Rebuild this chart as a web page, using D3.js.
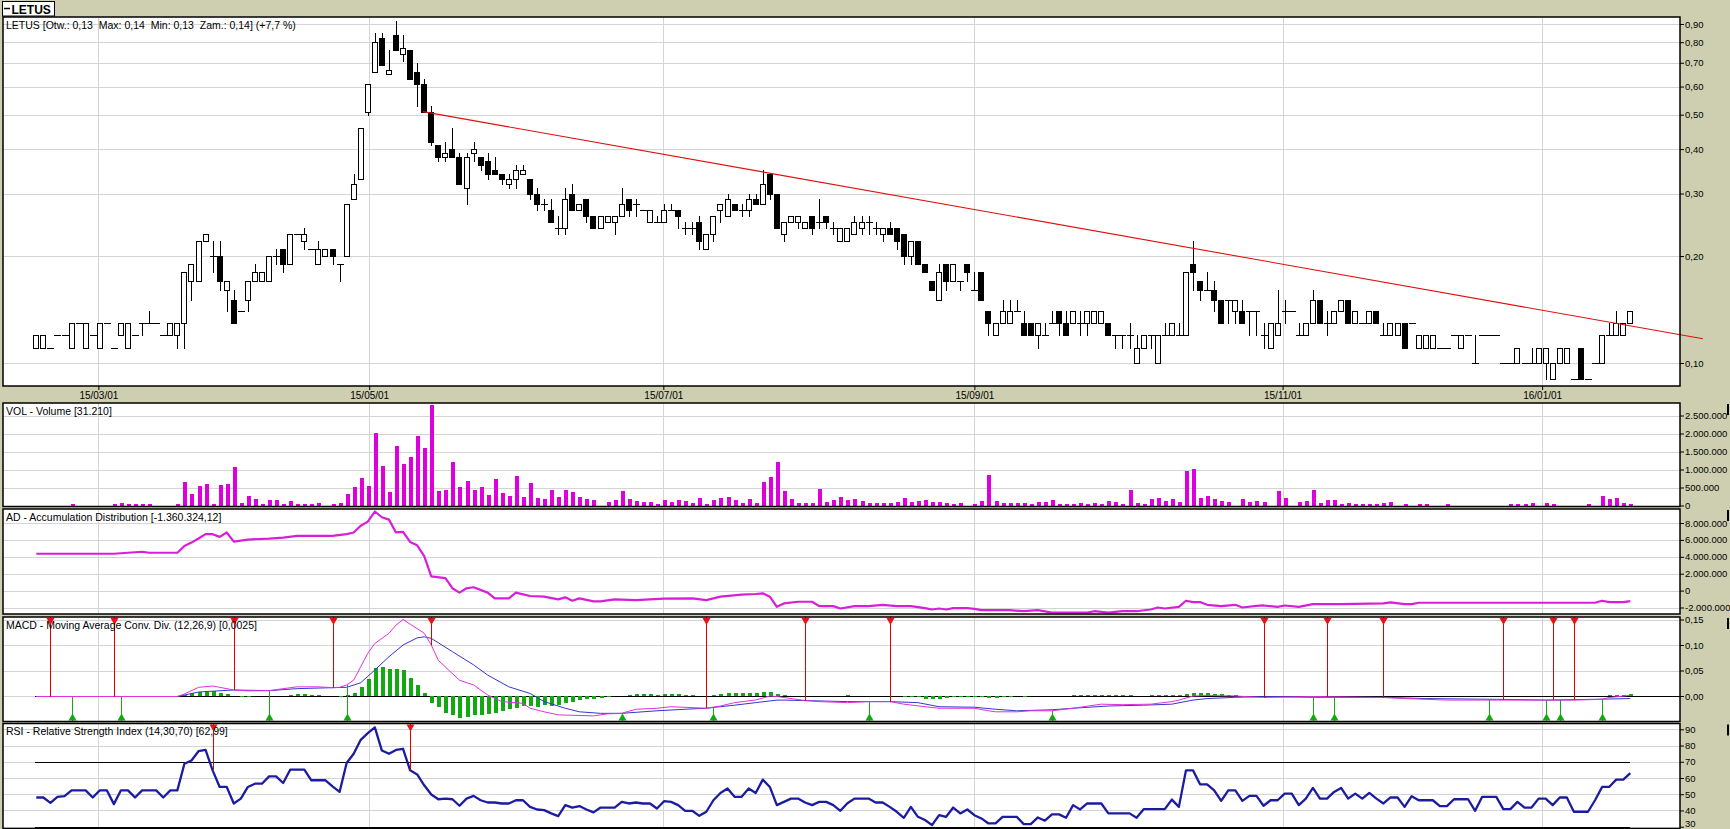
<!DOCTYPE html>
<html>
<head>
<meta charset="utf-8">
<script src="https://cdn.jsdelivr.net/npm/d3@7"></script>
<style>
  body { margin: 0; background: #cecfb0; }
  svg { display: block; font-family: "Liberation Sans", Arial, sans-serif; }
  text { white-space: pre; }
</style>
</head>
<body>
<svg id="chart" width="1730" height="829"></svg>
<script>
// LETUS daily candles, one entry per session
const opens = [
  .11,.11,.11,.12,.12,.11,.13,.11,.12,.11, .13,.11,.12,.11,.12,.13,.13,.13,.12,.12,
  .12,.13,.17,.17,.22,.20,.20,.16,.15,.14, .15,.17,.17,.17,.20,.21,.19,.23,.22,.21,
  .19,.20,.21,.19,.20,.29,.33,.51,.66,.82, .65,.84,.74,.76,.66,.61,.51,.41,.38,.40,
  .38,.31,.39,.38,.37,.35,.34,.32,.33,.34, .33,.30,.28,.27,.24,.24,.30,.27,.29,.26,
  .24,.25,.25,.26,.29,.28,.27,.25,.25,.25, .27,.27,.24,.24,.25,.21,.23,.27,.26,.28,
  .27,.27,.29,.28,.34,.30,.23,.25,.25,.24, .26,.25,.26,.24,.22,.22,.23,.24,.25,.24,
  .23,.24,.24,.23,.20,.22,.19,.17,.15,.19, .17,.17,.19,.16,.18,.14,.12,.13,.13,.14,
  .13,.13,.12,.12,.13,.14,.13,.13,.13,.13, .13,.13,.13,.12,.12,.12,.10,.11,.12,.10,
  .12,.12,.12,.12,.19,.17,.16,.16,.15,.15, .14,.14,.14,.14,.12,.11,.12,.14,.14,.12,
  .12,.13,.15,.13,.13,.14,.15,.13,.13,.13, .14,.12,.12,.12,.13,.13,.11,.11,.11,.11,
  .11,.12,.11,.12,.10,.12,.12,.12,.10,.10, .10,.10,.10,.10,.10,.09,.10,.10,.09,.11,
  .09,.10,.10,.12,.12,.12,.13
];
const highs = [
  .12,.12,.11,.12,.12,.13,.13,.13,.12,.13, .13,.11,.13,.13,.12,.13,.14,.13,.12,.13,
  .13,.18,.19,.22,.23,.22,.22,.17,.16,.14, .17,.19,.18,.20,.21,.21,.23,.23,.24,.21,
  .22,.21,.21,.19,.28,.34,.46,.61,.85,.85, .76,.92,.84,.76,.70,.63,.53,.41,.42,.46,
  .39,.39,.42,.38,.39,.38,.34,.34,.36,.36, .33,.31,.29,.29,.26,.31,.32,.28,.29,.26,
  .26,.26,.26,.31,.29,.29,.27,.27,.26,.28, .28,.27,.25,.25,.26,.23,.26,.28,.30,.28,
  .28,.30,.30,.35,.34,.30,.25,.26,.26,.25, .26,.29,.26,.25,.24,.24,.26,.26,.26,.25,
  .24,.25,.24,.23,.22,.22,.19,.17,.19,.19, .19,.17,.19,.18,.18,.14,.13,.15,.15,.15,
  .14,.13,.13,.13,.14,.14,.14,.14,.14,.14, .14,.14,.13,.12,.12,.13,.12,.12,.12,.12,
  .13,.13,.13,.18,.22,.17,.18,.17,.15,.15, .15,.15,.14,.14,.13,.13,.16,.15,.14,.13,
  .13,.16,.15,.14,.14,.15,.15,.14,.13,.14, .14,.13,.13,.13,.13,.13,.12,.12,.12,.11,
  .11,.12,.12,.12,.12,.12,.12,.12,.10,.10, .11,.10,.11,.11,.11,.10,.11,.11,.09,.11,
  .09,.10,.12,.13,.14,.13,.14
];
const lows = [
  .11,.11,.11,.12,.12,.11,.13,.11,.12,.11, .13,.11,.12,.11,.12,.12,.13,.13,.12,.12,
  .11,.11,.15,.17,.22,.18,.16,.14,.13,.14, .14,.17,.17,.17,.19,.18,.19,.23,.21,.21,
  .19,.20,.19,.17,.20,.29,.33,.50,.66,.69, .65,.76,.71,.63,.53,.51,.41,.37,.37,.38,
  .32,.28,.37,.35,.33,.34,.32,.31,.31,.34, .29,.27,.27,.25,.23,.23,.27,.27,.25,.24,
  .24,.25,.23,.26,.26,.26,.27,.25,.25,.25, .27,.24,.23,.23,.21,.21,.22,.25,.26,.27,
  .26,.26,.28,.28,.29,.24,.22,.25,.24,.24, .23,.24,.24,.23,.22,.22,.23,.23,.23,.23,
  .22,.23,.21,.19,.19,.19,.18,.16,.15,.16, .17,.16,.17,.16,.15,.12,.12,.13,.13,.14,
  .12,.12,.11,.12,.13,.12,.12,.13,.12,.12, .13,.13,.12,.11,.11,.11,.10,.11,.11,.10,
  .12,.12,.12,.12,.16,.15,.16,.14,.13,.13, .13,.13,.12,.12,.11,.11,.12,.13,.14,.12,
  .12,.13,.13,.12,.13,.14,.13,.13,.13,.13, .13,.12,.12,.12,.11,.13,.11,.11,.11,.11,
  .11,.12,.11,.12,.10,.12,.12,.12,.10,.10, .10,.10,.10,.10,.09,.09,.10,.10,.09,.09,
  .09,.10,.10,.12,.12,.12,.13
];
const closes = [
  .12,.12,.11,.12,.12,.13,.13,.13,.12,.13, .13,.11,.13,.13,.12,.13,.13,.13,.12,.13,
  .13,.18,.19,.22,.23,.20,.17,.17,.13,.14, .17,.18,.18,.20,.20,.19,.23,.23,.23,.21,
  .21,.21,.20,.19,.28,.32,.46,.61,.80,.69, .67,.76,.77,.63,.61,.51,.42,.38,.39,.38,
  .32,.38,.40,.36,.34,.34,.33,.33,.35,.35, .30,.28,.28,.25,.24,.29,.27,.28,.26,.24,
  .26,.26,.26,.28,.27,.28,.27,.27,.25,.27, .27,.26,.24,.24,.22,.23,.26,.28,.29,.27,
  .27,.29,.28,.32,.30,.24,.25,.26,.26,.25, .24,.25,.25,.24,.24,.24,.25,.25,.25,.24,
  .24,.23,.22,.20,.22,.19,.18,.16,.18,.17, .19,.17,.18,.16,.15,.13,.13,.14,.14,.14,
  .12,.12,.13,.12,.13,.13,.12,.14,.13,.14, .14,.14,.12,.12,.12,.12,.11,.12,.12,.12,
  .12,.13,.12,.18,.18,.16,.16,.15,.13,.15, .15,.13,.14,.14,.12,.13,.13,.14,.14,.12,
  .13,.15,.13,.13,.14,.15,.13,.14,.13,.14, .13,.12,.13,.13,.11,.13,.12,.12,.12,.11,
  .11,.12,.12,.12,.10,.12,.12,.12,.10,.10, .11,.10,.10,.11,.11,.10,.11,.11,.09,.09,
  .09,.10,.12,.12,.13,.13,.14
];
const volumes = [
  0,0,0,0,0,28000,0,0,0,0,
  0,46000,65000,55000,37000,37000,37000,0,0,0,
  37000,639000,333000,537000,593000,37000,565000,593000,1056000,56000,
  259000,176000,37000,148000,148000,37000,120000,37000,37000,37000,
  56000,0,28000,83000,315000,509000,759000,537000,2009000,1093000,
  370000,1648000,1157000,1343000,1926000,1593000,2787000,398000,426000,1204000,
  509000,676000,426000,509000,287000,731000,343000,259000,815000,231000,
  620000,204000,176000,426000,231000,426000,370000,231000,176000,148000,
  0,93000,148000,398000,176000,120000,93000,93000,37000,148000,
  93000,148000,120000,65000,204000,37000,148000,204000,231000,148000,
  65000,176000,65000,648000,787000,1204000,398000,176000,65000,65000,
  65000,454000,93000,148000,231000,148000,176000,120000,65000,65000,
  65000,65000,93000,204000,93000,120000,148000,93000,93000,65000,
  37000,65000,0,37000,120000,843000,120000,65000,65000,65000,
  65000,37000,93000,93000,148000,37000,37000,37000,65000,37000,
  65000,37000,120000,93000,37000,426000,65000,37000,176000,204000,
  120000,176000,93000,954000,1009000,204000,259000,176000,120000,93000,
  0,176000,93000,120000,93000,0,398000,204000,0,93000,
  120000,426000,65000,148000,148000,37000,65000,37000,37000,37000,
  37000,65000,93000,0,37000,0,37000,37000,0,0,
  37000,0,0,0,0,0,0,0,0,37000,
  37000,37000,65000,0,65000,37000,0,0,0,0,
  37000,0,259000,176000,204000,65000,31210
];
// Accumulation/Distribution, [session, value]
const adLine = [
  [0,4.36e6],[11,4.36e6],[15,4.6e6],[16,4.48e6],[20,4.48e6],[21,5.28e6],[22,5.68e6],[23,6.16e6],
  [24,6.68e6],[25,6.68e6],[26,6.36e6],[27,6.88e6],[28,5.8e6],[30,6.04e6],[33,6.16e6],[35,6.28e6],
  [37,6.48e6],[42,6.48e6],[44,6.68e6],[45,6.88e6],[46,7.68e6],[47,8.16e6],[48,9.36e6],[49,8.68e6],
  [50,8.4e6],[51,6.88e6],[52,6.96e6],[53,5.76e6],[54,5.36e6],[55,4.08e6],[56,1.68e6],[58,1.48e6],
  [59,0.28e6],[60,-0.24e6],[61,0.28e6],[62,0.4e6],[64,-0.24e6],[65,-0.92e6],[67,-0.92e6],[68,-0.24e6],
  [70,-0.64e6],[72,-0.72e6],[74,-1.04e6],[75,-0.8e6],[76,-1.2e6],[77,-0.92e6],[79,-1.28e6],[80,-1.28e6],
  [82,-1.04e6],[85,-1.12e6],[87,-1.04e6],[89,-0.96e6],[93,-0.92e6],[95,-1.12e6],[97,-0.72e6],[100,-0.48e6],
  [102,-0.4e6],[103,-0.32e6],[104,-0.72e6],[105,-1.92e6],[106,-1.52e6],[108,-1.32e6],[110,-1.32e6],
  [111,-1.84e6],[113,-1.84e6],[114,-2.12e6],[116,-1.84e6],[118,-1.84e6],[120,-1.68e6],[122,-1.84e6],
  [124,-1.84e6],[126,-2.08e6],[127,-2.24e6],[128,-2.12e6],[129,-2.24e6],[130,-2.08e6],[132,-2.08e6],
  [133,-2.16e6],[134,-2.32e6],[136,-2.32e6],[138,-2.32e6],[140,-2.44e6],[142,-2.32e6],[144,-2.6e6],
  [147,-2.6e6],[149,-2.6e6],[150,-2.44e6],[152,-2.6e6],[154,-2.44e6],[156,-2.44e6],[158,-2.24e6],
  [159,-2.0e6],[160,-2.12e6],[162,-1.92e6],[163,-1.2e6],[164,-1.36e6],[165,-1.36e6],[166,-1.68e6],
  [168,-1.84e6],[170,-1.68e6],[171,-2.0e6],[173,-1.8e6],[174,-1.76e6],[176,-1.92e6],[177,-1.76e6],
  [179,-1.92e6],[181,-1.6e6],[185,-1.6e6],[191,-1.52e6],[192,-1.4e6],[194,-1.6e6],[195,-1.6e6],
  [196,-1.44e6],[221,-1.44e6],[222,-1.2e6],[223,-1.36e6],[225,-1.36e6],[226,-1.24e6]
];
// MACD (12,26,9): line, signal line, histogram, [session, value]
const macdLine = [
  [0,-0.001],[20,-0.001],[21,0.004],[23,0.017],[25,0.0196],[26,0.017],[28,0.0118],[30,0.01],
  [33,0.0105],[35,0.0144],[37,0.018],[40,0.018],[42,0.0163],[43,0.017],[44,0.0216],[45,0.031],
  [46,0.0575],[47,0.0837],[48,0.103],[50,0.123],[51,0.139],[52,0.150],[53,0.141],[55,0.123],
  [56,0.1],[57,0.07],[60,0.031],[62,0.0216],[64,0.002],[66,-0.011],[69,-0.0144],[70,-0.024],
  [72,-0.031],[74,-0.037],[79,-0.039],[81,-0.035],[83,-0.034],[85,-0.026],[88,-0.024],[90,-0.021],
  [95,-0.024],[97,-0.0196],[99,-0.013],[102,-0.0078],[104,0],[105,-0.001],[109,-0.009],[111,-0.011],
  [115,-0.013],[118,-0.011],[121,-0.011],[123,-0.016],[126,-0.021],[128,-0.024],[133,-0.024],
  [135,-0.029],[136,-0.031],[139,-0.031],[141,-0.029],[144,-0.029],[147,-0.024],[151,-0.016],
  [154,-0.017],[158,-0.016],[161,-0.011],[162,-0.008],[164,0],[166,0.001],[170,0],[174,-0.003],
  [181,-0.001],[191,-0.003],[194,-0.005],[200,-0.008],[207,-0.008],[214,-0.008],[218,-0.008],
  [222,-0.0065],[223,-0.003],[226,0.0013]
];
const macdSignal = [
  [0,-0.001],[20,-0.001],[23,0.0078],[28,0.0118],[33,0.0105],[37,0.0144],[42,0.0163],[44,0.017],
  [46,0.026],[48,0.051],[50,0.077],[52,0.1],[54,0.114],[55,0.116],[56,0.113],[59,0.087],[62,0.061],
  [64,0.041],[67,0.018],[70,0.005],[72,-0.011],[75,-0.024],[77,-0.031],[80,-0.034],[83,-0.034],
  [88,-0.029],[92,-0.026],[95,-0.024],[99,-0.018],[102,-0.013],[105,-0.008],[106,-0.008],[109,-0.009],
  [115,-0.011],[118,-0.011],[121,-0.011],[125,-0.013],[128,-0.021],[133,-0.022],[136,-0.026],
  [139,-0.029],[144,-0.027],[147,-0.024],[152,-0.0196],[157,-0.018],[161,-0.016],[164,-0.008],
  [166,-0.005],[170,-0.0026],[175,-0.001],[181,-0.0026],[191,-0.0026],[197,-0.005],[207,-0.0065],
  [214,-0.008],[221,-0.0065],[226,-0.005]
];
const macdHist = [
  [21,0.0013],[22,0.005],[23,0.008],[24,0.0105],[25,0.009],[26,0.005],[27,0.004],[29,-0.0026],
  [30,-0.0026],[36,0.002],[37,0.004],[38,0.004],[39,0.0026],[40,0.002],[43,-0.0026],[44,0.002],
  [45,0.0065],[46,0.017],[47,0.0327],[48,0.055],[49,0.0575],[50,0.0536],[51,0.0536],[52,0.051],
  [53,0.035],[54,0.0216],[55,0.006],[56,-0.013],[57,-0.0215],[58,-0.034],[59,-0.037],[60,-0.044],
  [61,-0.042],[62,-0.037],[63,-0.037],[64,-0.035],[65,-0.033],[66,-0.029],[67,-0.026],[68,-0.024],
  [69,-0.0196],[70,-0.0196],[71,-0.021],[72,-0.018],[73,-0.0196],[74,-0.018],[75,-0.0144],
  [76,-0.011],[77,-0.008],[78,-0.0065],[79,-0.0065],[80,-0.0046],[81,-0.0026],[84,0.002],
  [85,0.004],[86,0.004],[87,0.004],[88,0.0026],[89,0.004],[90,0.004],[91,0.004],[92,0.0026],
  [93,0.002],[96,0.002],[97,0.004],[98,0.005],[99,0.005],[100,0.005],[101,0.005],[102,0.005],
  [103,0.007],[104,0.008],[105,0.004],[106,0.002],[115,0.001],[123,-0.0026],[124,-0.0026],
  [125,-0.0026],[126,-0.005],[127,-0.0065],[128,-0.0065],[129,-0.0046],[130,-0.0026],[131,-0.0026],
  [132,-0.0026],[133,-0.0026],[134,-0.0026],[135,-0.0035],[136,-0.0035],[137,-0.0026],[138,-0.0026],
  [140,-0.0026],[147,0.0013],[148,0.0013],[149,0.0026],[150,0.0026],[151,0.0026],[152,0.0026],
  [153,0.0026],[154,0.0013],[155,0.0013],[158,0.0013],[159,0.0013],[160,0.0013],[161,0.0013],
  [162,0.0013],[163,0.004],[164,0.0065],[165,0.0065],[166,0.005],[167,0.0045],[168,0.003],
  [169,0.0026],[170,0.0013],[223,0.0013],[224,0.0013],[225,0.0026],[226,0.003]
];
const macdSells = [2, 11, 28, 42, 56, 95, 109, 121, 174, 183, 191, 208, 215, 218];
const macdBuys = [5, 12, 33, 44, 83, 96, 118, 144, 181, 184, 206, 214, 216, 222];
// RSI (14), one value per session
const rsi = [
  48,48,44.7,48.4,48.8,52.4,52.4,52.4,48,52.4, 52.4,43.9,52.4,52.4,48,52.4,52.4,52.4,48,52.4,
  52.4,68.8,70.8,76.5,77.3,64.7,54.5,54.5,44.3,47.3, 54.5,56.5,56.5,61,61,56.9,65.1,65.1,65.1,58.6,
  58.6,58.6,54.9,51.4,69.2,74.9,83.5,87.6,91.2,76.9, 74.9,77.3,78,64.7,62.2,55.5,49.8,46.9,47.3,46.9,
  42.9,47.3,49,46.3,44.9,44.9,44.3,44.3,46.3,46.3, 42.2,40.6,40.2,38.2,36.5,43.3,41.8,42.7,40.6,38.8,
  41.8,41.8,41.8,45.3,44.3,44.9,44.3,44.3,41.2,45.7, 45.3,43.3,39.8,39.8,36.7,39.2,46.3,50.8,53.5,48.4,
  48.4,53.5,50.8,59,54.5,43.3,45.3,47.3,47.3,44.9, 43.3,45.3,45.3,43.3,39.8,44.5,47.3,47.3,47.3,44.9,
  44.9,42.2,39.2,35.5,42.2,36.1,34.1,31,37.1,36.1, 41.8,38.2,40.6,37.1,35.1,32,32,36.1,36.1,36.1,
  31.6,31.6,35.7,33.7,37.6,37.6,35.5,43.3,40.6,44.3, 44.3,44.3,38.2,38.2,38.2,38.2,35.5,40.8,40.8,40.8,
  40.8,46.7,42.2,64.7,64.7,56.1,56.1,52.4,45.9,52.4, 52.4,45.9,49,49,42.9,46.3,46.3,50.4,50.4,43.3,
  47.3,53.9,47.3,47.3,51.4,53.9,47.3,50.4,47.3,50.8, 47.3,44.3,48,48,42.2,48.8,46.3,46.3,46.3,42.7,
  42.7,46.9,46.9,46.9,39.8,48.4,48.4,48.4,40.8,40.8, 45.3,41.8,41.8,47.3,47.3,43.3,48,48,39.2,39.2,
  39.2,46.3,54.5,54.5,59,59,63
];
const rsiSells = [25, 53];
// falling resistance line, [session, price]
const trendLine = [[54.8, 0.51], [236.3, 0.117]];
// date grid (session position of the first of the month)
const dateLabels = ["15/03/01", "15/05/01", "15/07/01", "15/09/01", "15/11/01", "16/01/01"];
const datePos = [8.8, 47.2, 88.9, 133.0, 176.7, 213.5];
const priceTicks = [0.1, 0.2, 0.3, 0.4, 0.5, 0.6, 0.7, 0.8, 0.9];
const volTicks = [0, 500000, 1000000, 1500000, 2000000, 2500000];
const adTicks = [-2000000, 0, 2000000, 4000000, 6000000, 8000000];
const macdTicks = [0, 0.05, 0.10, 0.15];
const rsiTicks = [30, 40, 50, 60, 70, 80, 90];

const pl = d3.formatLocale({decimal: ",", thousands: ".", grouping: [3], currency: ["", ""], minus: "-"});
const fmtInt = pl.format(",.0f");
const fmt2 = pl.format(".2f");

const svg = d3.select("#chart");
const L = 3, R = 1680;
const N = closes.length;
const x = d3.scaleLinear().domain([0, N - 1]).range([36.3, 1630.3]);
const cx = i => Math.round(x(i));

const P = {
  price: {top: 17, bottom: 386},
  vol: {top: 403, bottom: 506.5},
  ad: {top: 509, bottom: 614},
  macd: {top: 617, bottom: 721.5},
  rsi: {top: 723.5, bottom: 828.5}
};
const yP = d3.scaleLog().domain([0.1, 0.9]).range([363, 24]);
const yV = d3.scaleLinear().domain([0, 2500000]).range([505.5, 415.5]);
const yA = d3.scaleLinear().domain([-2000000, 8000000]).range([607.5, 523]);
const yM = d3.scaleLinear().domain([0, 0.15]).range([696, 619.5]);
const yR = d3.scaleLinear().domain([30, 90]).range([826.7, 729.3]);

// tab with the instrument name
svg.append("rect").attr("x", 2.5).attr("y", 1.5).attr("width", 52).attr("height", 14.5)
  .attr("fill", "#fff").attr("stroke", "#000");
svg.append("line").attr("x1", 4).attr("x2", 10).attr("y1", 8.5).attr("y2", 8.5).attr("stroke", "#000").attr("stroke-width", 1.5);
svg.append("text").attr("x", 11.5).attr("y", 13.5).attr("font-size", 12).attr("font-weight", "bold").text("LETUS");

function panel(p, yScale, ticks, fmt) {
  const g = svg.append("g");
  g.append("rect").attr("x", L).attr("y", p.top).attr("width", R - L).attr("height", p.bottom - p.top).attr("fill", "#fff");
  const grid = g.append("g").attr("shape-rendering", "crispEdges").attr("stroke", "#d4d4d4");
  grid.selectAll(".h").data(ticks).join("line")
    .attr("x1", L).attr("x2", R)
    .attr("y1", d => Math.round(yScale(d)) + 0.5).attr("y2", d => Math.round(yScale(d)) + 0.5);
  grid.selectAll(".v").data(datePos).join("line")
    .attr("x1", d => cx(d) + 0.5).attr("x2", d => cx(d) + 0.5)
    .attr("y1", p.top).attr("y2", p.bottom);
  const ax = svg.append("g").attr("transform", `translate(${R},0)`)
    .call(d3.axisRight(yScale).tickValues(ticks).tickSize(4).tickPadding(1).tickFormat(fmt));
  ax.select(".domain").remove();
  ax.selectAll("text").attr("font-size", 9.5).attr("font-family", "Liberation Sans, Arial, sans-serif").attr("fill", "#000");
  return ax;
}
function frame(p, title) {
  svg.append("rect").attr("x", L).attr("y", p.top).attr("width", R - L).attr("height", p.bottom - p.top)
    .attr("fill", "none").attr("stroke", "#000").attr("stroke-width", 1.5);
  svg.append("text").attr("x", 6).attr("y", p.top + 11.5).attr("font-size", 10.5).text(title);
}
const layer = () => svg.append("g");

// ---------- price ----------
panel(P.price, yP, priceTicks, fmt2);
const gc = layer().attr("shape-rendering", "crispEdges");
const candles = d3.range(N).map(i => ({i, o: opens[i], h: highs[i], l: lows[i], c: closes[i]}));
gc.selectAll(".wick").data(candles.filter(d => d.h > d.l)).join("line")
  .attr("x1", d => cx(d.i) + 0.5).attr("x2", d => cx(d.i) + 0.5)
  .attr("y1", d => Math.round(yP(d.h))).attr("y2", d => Math.round(yP(d.l)) + 1)
  .attr("stroke", "#000");
gc.selectAll(".body").data(candles.filter(d => d.o !== d.c)).join("rect")
  .attr("x", d => cx(d.i) - 2.5)
  .attr("y", d => Math.round(yP(Math.max(d.o, d.c))) + 0.5)
  .attr("width", 5)
  .attr("height", d => Math.round(yP(Math.min(d.o, d.c))) - Math.round(yP(Math.max(d.o, d.c))))
  .attr("fill", d => d.c > d.o ? "#fff" : "#000").attr("stroke", "#000");
gc.selectAll(".flat").data(candles.filter(d => d.o === d.c)).join("line")
  .attr("x1", d => cx(d.i) - 3).attr("x2", d => cx(d.i) + 4)
  .attr("y1", d => Math.round(yP(d.o)) + 0.5).attr("y2", d => Math.round(yP(d.o)) + 0.5)
  .attr("stroke", "#000");
svg.append("line")
  .attr("x1", x(trendLine[0][0])).attr("y1", yP(trendLine[0][1]))
  .attr("x2", x(trendLine[1][0])).attr("y2", yP(trendLine[1][1]))
  .attr("stroke", "#e01010").attr("stroke-width", 1.1);
frame(P.price, "LETUS [Otw.: 0,13  Max: 0,14  Min: 0,13  Zam.: 0,14] (+7,7 %)");

// date axis under the price panel
const dAx = svg.append("g").attr("transform", `translate(0,${P.price.bottom})`)
  .call(d3.axisBottom(x).tickValues(datePos).tickSize(4).tickPadding(2).tickFormat((d, i) => dateLabels[i]));
dAx.select(".domain").remove();
dAx.selectAll("text").attr("font-size", 10).attr("font-family", "Liberation Sans, Arial, sans-serif").attr("fill", "#000");

// ---------- volume ----------
panel(P.vol, yV, volTicks, fmtInt);
layer().attr("shape-rendering", "crispEdges").selectAll("rect")
  .data(volumes.map((v, i) => ({i, v})).filter(d => d.v > 0)).join("rect")
  .attr("x", d => cx(d.i) - 1).attr("width", 4)
  .attr("y", d => Math.min(yV(d.v), yV(0) - 1)).attr("height", d => Math.max(yV(0) - yV(d.v), 1))
  .attr("fill", "#dd00dd");
frame(P.vol, "VOL - Volume [31.210]");

// ---------- accumulation distribution ----------
panel(P.ad, yA, adTicks, fmtInt);
layer().append("path").datum(adLine)
  .attr("d", d3.line().x(d => x(d[0])).y(d => yA(d[1])))
  .attr("fill", "none").attr("stroke", "#d81ed8").attr("stroke-width", 2.2).attr("stroke-linejoin", "round");
frame(P.ad, "AD - Accumulation Distribution [-1.360.324,12]");

// ---------- MACD ----------
function valueAt(pts, i) {
  for (let k = 1; k < pts.length; k++) {
    if (pts[k][0] >= i) {
      const [x0, v0] = pts[k - 1], [x1, v1] = pts[k];
      return v0 + (v1 - v0) * (i - x0) / (x1 - x0);
    }
  }
  return pts[pts.length - 1][1];
}
panel(P.macd, yM, macdTicks, fmt2);
const gMacd = layer();
gMacd.append("line").attr("x1", x(0) - 1).attr("x2", R).attr("y1", Math.round(yM(0)) + 0.5).attr("y2", Math.round(yM(0)) + 0.5)
  .attr("stroke", "#000").attr("shape-rendering", "crispEdges");
gMacd.append("g").attr("shape-rendering", "crispEdges").selectAll("rect").data(macdHist).join("rect")
  .attr("x", d => cx(d[0]) - 1).attr("width", 4)
  .attr("y", d => Math.min(yM(d[1]), yM(0))).attr("height", d => Math.max(Math.abs(yM(d[1]) - yM(0)), 1))
  .attr("fill", "#12a812");
gMacd.append("path").datum(macdSignal)
  .attr("d", d3.line().x(d => x(d[0])).y(d => yM(d[1])))
  .attr("fill", "none").attr("stroke", "#3535d0").attr("stroke-width", 1);
gMacd.append("path").datum(macdLine)
  .attr("d", d3.line().x(d => x(d[0])).y(d => yM(d[1])))
  .attr("fill", "none").attr("stroke", "#e030e0").attr("stroke-width", 1);
const mt = P.macd.top, mb = P.macd.bottom;
gMacd.selectAll(".sell").data(macdSells).join("line")
  .attr("x1", d => cx(d) + 0.5).attr("x2", d => cx(d) + 0.5)
  .attr("y1", mt).attr("y2", d => yM(valueAt(macdLine, d)))
  .attr("stroke", "#e00000").attr("shape-rendering", "crispEdges");
gMacd.selectAll(".sellT").data(macdSells).join("path")
  .attr("d", d => `M${cx(d) - 3.5},${mt + 1}L${cx(d) + 4.5},${mt + 1}L${cx(d) + 0.5},${mt + 8}Z`)
  .attr("fill", "#e51515");
gMacd.selectAll(".buy").data(macdBuys).join("line")
  .attr("x1", d => cx(d) + 0.5).attr("x2", d => cx(d) + 0.5)
  .attr("y1", mb).attr("y2", d => yM(valueAt(macdLine, d)))
  .attr("stroke", "#18a818").attr("shape-rendering", "crispEdges");
gMacd.selectAll(".buyT").data(macdBuys).join("path")
  .attr("d", d => `M${cx(d) - 3.5},${mb - 1}L${cx(d) + 4.5},${mb - 1}L${cx(d) + 0.5},${mb - 8}Z`)
  .attr("fill", "#12a812");
frame(P.macd, "MACD - Moving Average Conv. Div. (12,26,9) [0,0025]");

// ---------- RSI ----------
const rsiAx = panel(P.rsi, yR, rsiTicks, d => String(d));
// the lowest label sits on the bottom edge: lift it so it stays readable
rsiAx.selectAll(".tick").filter(d => d === 30).select("text").attr("dy", "-0.05em");
const gRsi = layer();
gRsi.selectAll(".lvl").data([70, 30]).join("line")
  .attr("x1", x(0) - 1).attr("x2", x(N - 1))
  .attr("y1", d => Math.round(yR(d)) + 0.5).attr("y2", d => Math.round(yR(d)) + 0.5)
  .attr("stroke", "#000").attr("shape-rendering", "crispEdges");
gRsi.append("path").datum(rsi)
  .attr("d", d3.line().x((d, i) => x(i)).y(d => yR(d)))
  .attr("fill", "none").attr("stroke", "#1c1ca0").attr("stroke-width", 2.3).attr("stroke-linejoin", "round");
const rt = P.rsi.top;
gRsi.selectAll(".sell").data(rsiSells).join("line")
  .attr("x1", d => cx(d) + 0.5).attr("x2", d => cx(d) + 0.5)
  .attr("y1", rt).attr("y2", d => yR(rsi[d]))
  .attr("stroke", "#e00000").attr("shape-rendering", "crispEdges");
gRsi.selectAll(".sellT").data(rsiSells).join("path")
  .attr("d", d => `M${cx(d) - 3.5},${rt + 1}L${cx(d) + 4.5},${rt + 1}L${cx(d) + 0.5},${rt + 8}Z`)
  .attr("fill", "#e51515");
frame(P.rsi, "RSI - Relative Strength Index (14,30,70) [62,99]");

// small handles at the right edge of the indicator panes
svg.selectAll(".handle").data([P.vol, P.ad, P.macd, P.rsi]).join("rect")
  .attr("x", 1727).attr("width", 2).attr("y", d => d.top + 1).attr("height", 11).attr("fill", "#000");
</script>
</body>
</html>
